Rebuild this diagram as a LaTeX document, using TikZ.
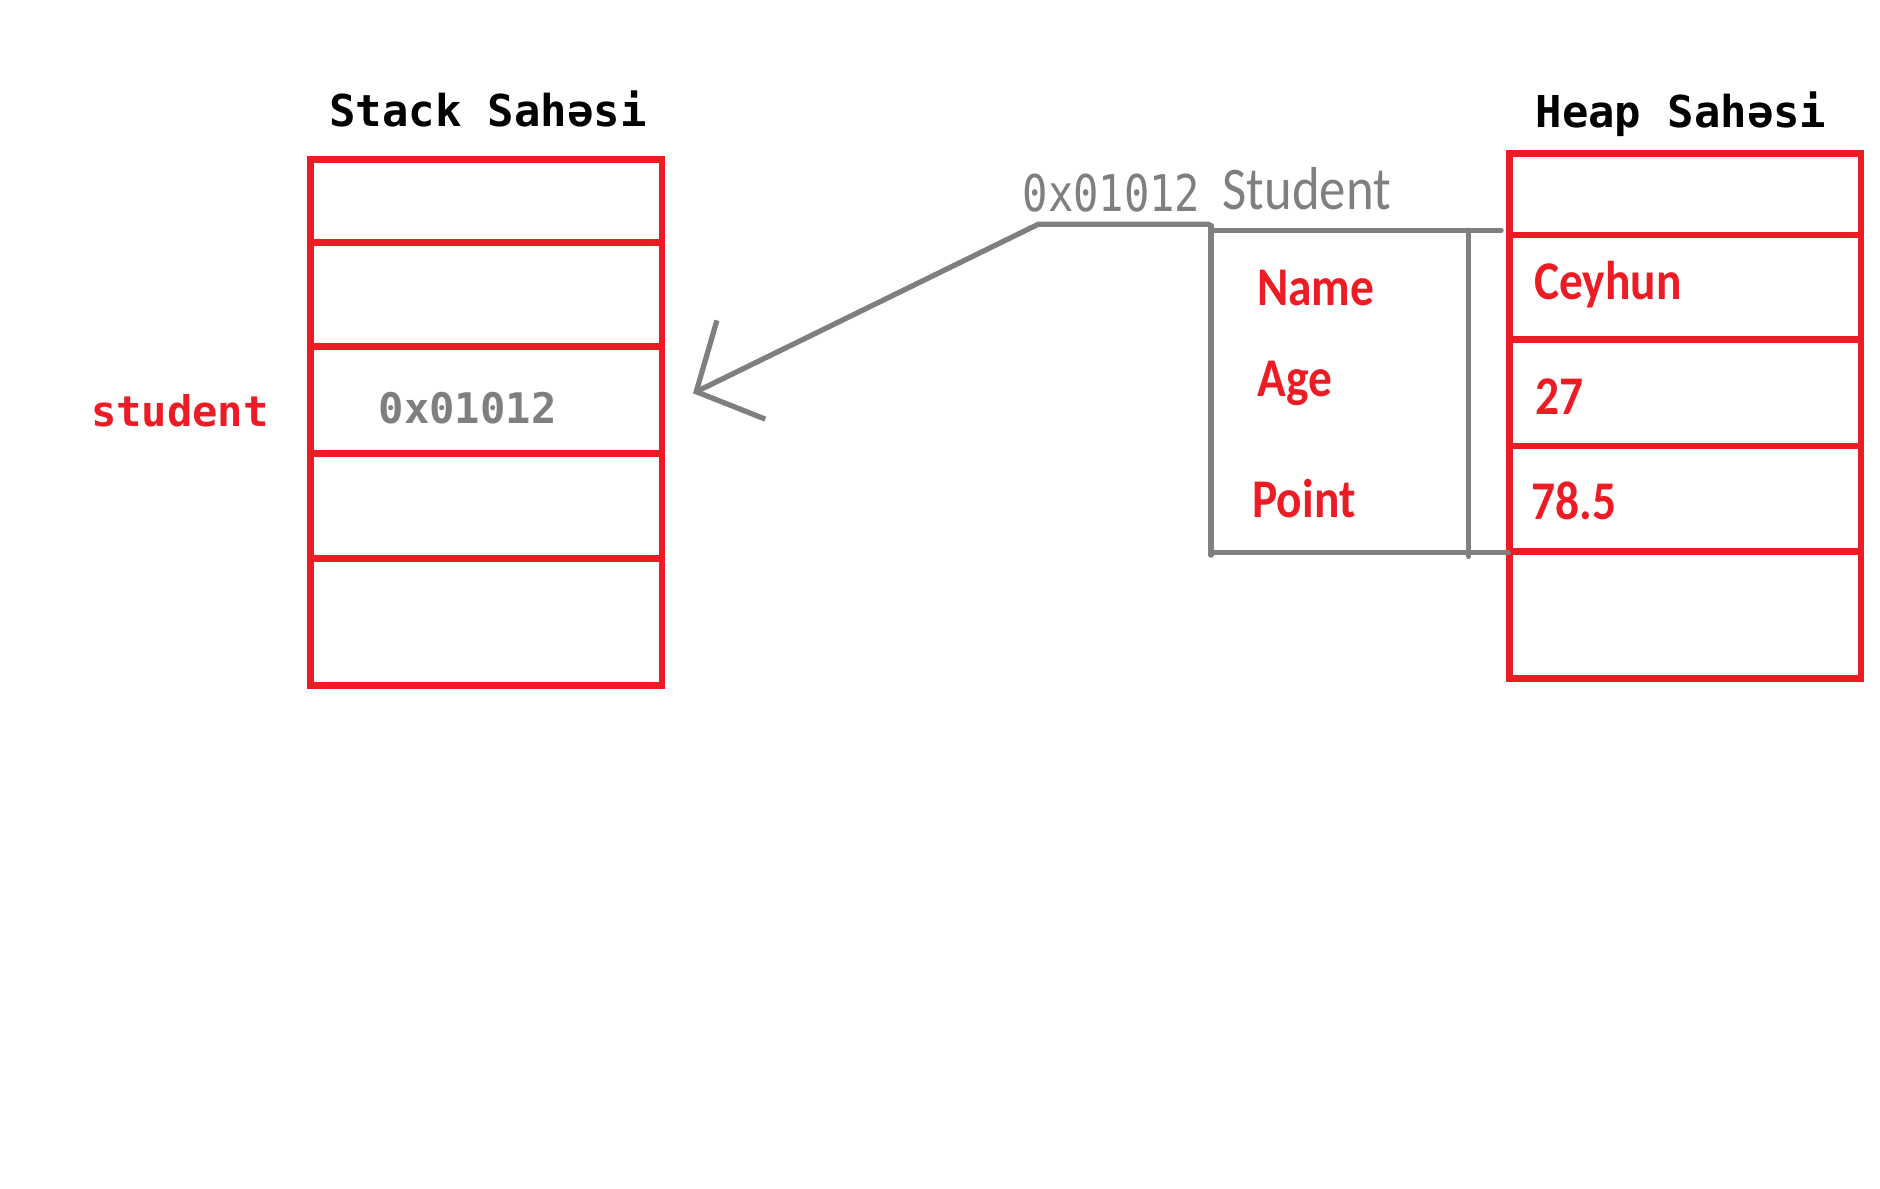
\documentclass[tikz,border=0pt]{standalone}
\usepackage{fontspec}
\setmainfont{Carlito}
\setmonofont{DejaVu Sans Mono}
\usetikzlibrary{arrows.meta}
\definecolor{memred}{HTML}{ED1C24}
\definecolor{refgray}{HTML}{7F7F7F}

\begin{document}
\begin{tikzpicture}[x=0.012cm,y=-0.012cm,
	cellline/.style={draw=memred,line width=1.9pt},
	objline/.style={draw=refgray,line width=1.5pt,line cap=round},
	areatitle/.style={font=\ttfamily\bfseries\fontsize{12.5}{14}\selectfont,text=black,inner sep=0pt},
	addrtext/.style={font=\ttfamily\bfseries\fontsize{12}{14}\selectfont,text=refgray,inner sep=0pt},
	vartext/.style={font=\ttfamily\bfseries\fontsize{12}{14}\selectfont,text=memred,inner sep=0pt},
	fieldtext/.style={font=\bfseries\fontsize{13.5}{16}\selectfont,text=memred,inner sep=0pt,anchor=west,yscale=1.15},
]
\useasboundingbox (0,0) rectangle (1568,991);

% STACK
\node[areatitle] (stacktitle) at (407,91) {Stack Sahəsi};
\draw[cellline] (259,133) rectangle (552,572);
\foreach \y in {202,289,378,466}
	\draw[cellline] (259,\y) -- (552,\y);
\node[addrtext] (stackref) at (390,340) {0x01012};
\node[vartext] (stackvar) at (150,343) {student};

% HEAP
\node[areatitle] (heaptitle) at (1402,95) {Heap Sahəsi};
\draw[cellline] (1259,128) rectangle (1552,566);
\foreach \y in {196,283,372,460}
	\draw[cellline] (1259,\y) -- (1552,\y);
\node[fieldtext] (nameval) at (1279,237) {Ceyhun};
\node[fieldtext] (ageval) at (1280,331) {27};
\node[fieldtext] (pointval) at (1277,418) {78.5};

% STUDENT OBJECT
\node[addrtext,font=\ttfamily\fontsize{12}{14}\selectfont,yscale=1.2] (objaddr) at (927,161) {0x01012};
\node[font=\fontsize{15}{17}\selectfont,text=refgray,inner sep=0pt,yscale=1.15] (objclass) at (1090,157) {Student};
\draw[objline] (1010,188) -- (1010,463);
\draw[objline] (1010,192) -- (1252,192);
\draw[objline] (1225,192) -- (1225,464);
\draw[objline] (1010,461) -- (1258,461);
\node[fieldtext] (namefield) at (1048,240) {Name};
\node[fieldtext] (agefield) at (1048,320) {Age};
\node[fieldtext] (pointfield) at (1044,416) {Point};

% REFERENCE
\coordinate (objcorner) at (1008,187);
\coordinate (bend) at (866,187);
\coordinate (stackhit) at (578,328);
\draw[objline,-{Straight Barb[length=5mm,width=11mm,line width=1.5pt]}] (objcorner) -- (bend) -- (stackhit);

\end{tikzpicture}
\end{document}
